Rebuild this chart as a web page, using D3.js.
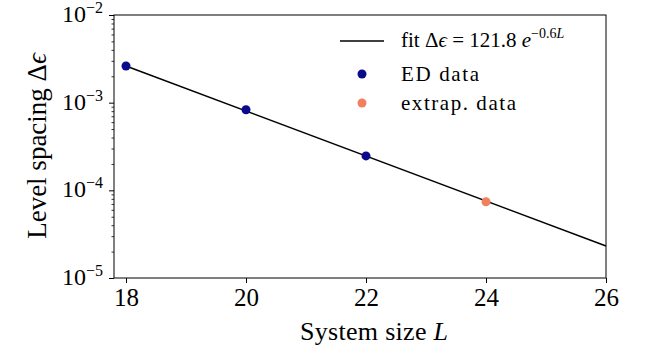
<!DOCTYPE html>
<html>
<head>
<meta charset="utf-8">
<script src="https://cdn.jsdelivr.net/npm/d3@7"></script>
<style>
  body { margin: 0; background: #fff; }
  text { font-family: "Liberation Serif", "Times New Roman", serif; fill: #000; }
</style>
</head>
<body>
<div id="chart"></div>
<script>
// data
const edL = [18, 20, 22];
const edGap = [2.62e-3, 8.3e-4, 2.47e-4];
const extrapL = [24];
const extrapGap = [7.4e-5];
const fitL = [18, 26];
const fitGap = [2.62e-3, 2.32e-5];
const xTicks = [18, 20, 22, 24, 26];
const yTicks = [-2, -3, -4, -5];

const serif = '"Liberation Serif", "Times New Roman", serif';
const width = 651, height = 356;
const margin = { top: 15, right: 45, bottom: 78, left: 114 };
const w = width - margin.left - margin.right;
const h = height - margin.top - margin.bottom;

const svg = d3.select('#chart').append('svg')
  .attr('width', width)
  .attr('height', height);

const g = svg.append('g')
  .attr('transform', 'translate(' + margin.left + ',' + margin.top + ')');

const x = d3.scaleLinear().domain([17.8, 26]).range([0, w]);
const y = d3.scaleLog().domain([1e-5, 1e-2]).range([h, 0]);

// x axis
const xAxis = d3.axisBottom(x).tickValues(xTicks).tickSize(5).tickPadding(5).tickFormat(d => d);
const gX = g.append('g')
  .attr('transform', 'translate(0,' + h + ')')
  .call(xAxis)
  .attr('font-family', serif)
  .attr('font-size', 25);
gX.select('.domain').remove();
gX.selectAll('.tick line').style('stroke', '#000').style('stroke-width', 1);
gX.selectAll('.tick text').style('fill', '#000');

// y axis major ticks
const majors = yTicks.map(e => Math.pow(10, e));
const yAxis = d3.axisLeft(y).tickValues(majors).tickSize(5).tickFormat('');
const gY = g.append('g').call(yAxis);
gY.select('.domain').remove();
gY.selectAll('.tick line').style('stroke', '#000').style('stroke-width', 1);

// y minor ticks
const minors = [];
[-5, -4, -3].forEach(e => {
  for (let k = 2; k <= 9; k++) minors.push(k * Math.pow(10, e));
});
const yMinor = d3.axisLeft(y).tickValues(minors).tickSize(2.5).tickFormat('');
const gYm = g.append('g').call(yMinor);
gYm.select('.domain').remove();
gYm.selectAll('.tick line').style('stroke', '#000').style('stroke-width', 0.8);

// y tick labels 10^k
yTicks.forEach(e => {
  const t = g.append('text')
    .attr('x', -11)
    .attr('y', y(Math.pow(10, e)) + 7)
    .attr('text-anchor', 'end')
    .style('font-size', '24px');
  t.append('tspan').text('10');
  t.append('tspan')
    .attr('dy', -9)
    .style('font-size', '16px')
    .text('\u2212' + Math.abs(e));
});

// frame
g.append('rect')
  .attr('width', w)
  .attr('height', h)
  .attr('fill', 'none')
  .attr('stroke', '#000')
  .attr('stroke-width', 1);

// fit line
const line = d3.line().x((d, i) => x(fitL[i])).y(d => y(d));
g.append('path')
  .datum(fitGap)
  .attr('d', line)
  .attr('fill', 'none')
  .attr('stroke', '#000')
  .attr('stroke-width', 1.5);

// points
g.selectAll('.ed')
  .data(edGap)
  .enter()
  .append('circle')
  .attr('cx', (d, i) => x(edL[i]))
  .attr('cy', d => y(d))
  .attr('r', 4.5)
  .style('fill', '#0a0a8a');

g.selectAll('.ex')
  .data(extrapGap)
  .enter()
  .append('circle')
  .attr('cx', (d, i) => x(extrapL[i]))
  .attr('cy', d => y(d))
  .attr('r', 4.5)
  .style('fill', '#f08060');

// axis labels
const xl = svg.append('text')
  .attr('x', 300)
  .attr('y', 340)
  .attr('textLength', 148)
  .style('font-size', '26px');
xl.append('tspan').text('System size ');
xl.append('tspan').style('font-style', 'italic').text('L');

const yl = svg.append('text')
  .attr('transform', 'translate(46,146) rotate(-90)')
  .attr('text-anchor', 'middle')
  .style('font-size', '27px');
yl.append('tspan').text('Level spacing \u0394');
yl.append('tspan').style('font-style', 'italic').text('\u03f5');

// legend
const lg = svg.append('g').attr('transform', 'translate(340,41)');
lg.append('line').attr('x1', 0).attr('x2', 44).attr('y1', 0).attr('y2', 0)
  .attr('stroke', '#000').attr('stroke-width', 1.5);
const ft = lg.append('text').attr('x', 61).attr('y', 6).style('font-size', '21px');
ft.append('tspan').text('fit \u0394');
ft.append('tspan').style('font-style', 'italic').text('\u03f5');
ft.append('tspan').text(' = 121.8 ');
ft.append('tspan').style('font-style', 'italic').text('e');
ft.append('tspan').attr('dy', -9).style('font-size', '14px').text('\u22120.6');
ft.append('tspan').style('font-size', '14px').style('font-style', 'italic').text('L');

lg.append('circle').attr('cx', 22).attr('cy', 33).attr('r', 4.5).style('fill', '#0a0a8a');
lg.append('text').attr('x', 61).attr('y', 40).attr('textLength', 78)
  .style('font-size', '21px').text('ED data');
lg.append('circle').attr('cx', 22).attr('cy', 62).attr('r', 4.5).style('fill', '#f08060');
lg.append('text').attr('x', 61).attr('y', 69).attr('textLength', 115)
  .style('font-size', '21px').text('extrap. data');
</script>
</body>
</html>
